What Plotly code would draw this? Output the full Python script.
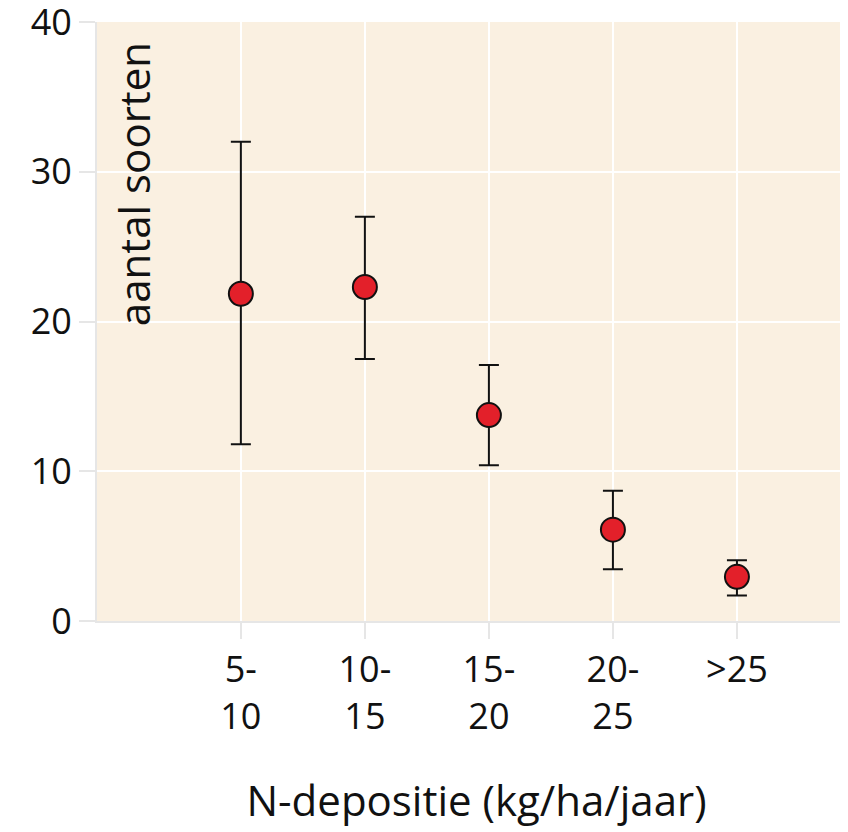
import plotly.graph_objects as go

categories = ["5-<br>10", "10-<br>15", "15-<br>20", "20-<br>25", ">25"]
means = [21.85, 22.3, 13.75, 6.1, 2.95]
upper = [32.0, 27.0, 17.1, 8.7, 4.05]
lower = [11.8, 17.5, 10.4, 3.45, 1.7]
y_ticks = [0, 10, 20, 30, 40]

xpos = list(range(len(categories)))
err_plus = [u - m for u, m in zip(upper, means)]
err_minus = [m - l for m, l in zip(means, lower)]

fig = go.Figure()
fig.add_trace(go.Scatter(
    x=xpos, y=means, mode="markers",
    marker=dict(size=24, color="#E3202A", line=dict(color="#111111", width=2)),
    error_y=dict(type="data", symmetric=False, array=err_plus, arrayminus=err_minus,
                 color="#111111", thickness=2, width=10),
    showlegend=False,
))

font_family = "Open Sans, Lato, sans-serif"
fig.update_layout(
    width=848, height=832,
    margin=dict(l=89, r=0, t=14, b=219),
    plot_bgcolor="#FAF0E1",
    paper_bgcolor="white",
    font=dict(family=font_family, size=36, color="#111111"),
    xaxis=dict(
        tickvals=xpos, ticktext=categories,
        range=[-1.16, 4.96],
        showgrid=True, gridcolor="white", gridwidth=2,
        ticks="outside", ticklen=16, tickcolor="#E6E6E6", tickwidth=2,
        showline=True, linecolor="#E6E6E6", linewidth=2,
        zeroline=False, automargin=False,
        ticklabeloverflow="allow",
        tickfont=dict(size=36),
        title=dict(text="N-depositie (kg/ha/jaar)", font=dict(size=42), standoff=48),
    ),
    yaxis=dict(
        range=[0, 40], tickvals=y_ticks,
        showgrid=True, gridcolor="white", gridwidth=2,
        ticks="outside", ticklen=16, tickcolor="#E6E6E6", tickwidth=2,
        showline=True, linecolor="#E6E6E6", linewidth=2,
        zeroline=False, automargin=False,
        ticklabeloverflow="allow",
        tickfont=dict(size=36),
    ),
    annotations=[dict(
        text="aantal soorten", textangle=-90,
        xref="paper", yref="paper", x=0.049, y=0.97,
        xanchor="center", yanchor="top", showarrow=False,
        font=dict(size=42, family=font_family, color="#111111"),
    )],
)

fig.write_html("out.html")
